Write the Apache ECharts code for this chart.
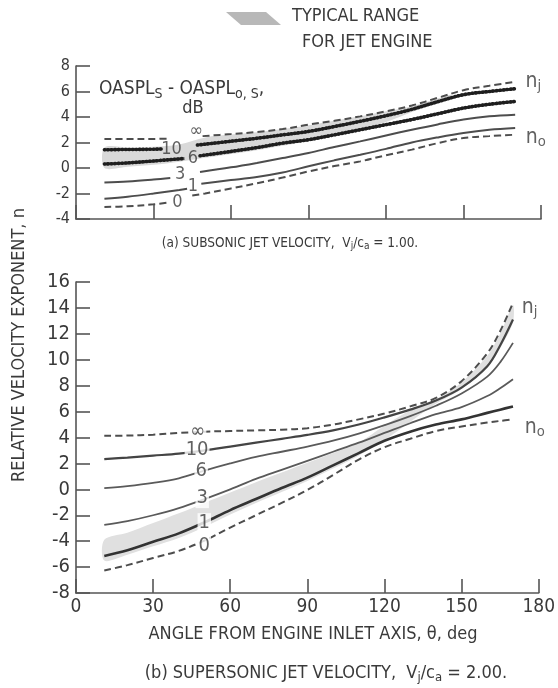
<!DOCTYPE html>
<html>
<head>
<meta charset="utf-8">
<script src="https://cdn.jsdelivr.net/npm/echarts@6/dist/echarts.min.js"></script>
<style>
html,body{margin:0;padding:0;background:#fff}
#chart{width:558px;height:688px}
</style>
</head>
<body>
<div id="chart"></div>
<script>
// ---- (a) subsonic jet, Vj/ca = 1.00 : relative velocity exponent n vs angle (deg) ----
// null marks the break in a curve where its dB label sits
const subInfAngle = [11, 20, 30, 36, 42, 49, 60, 70, 80, 90, 100, 110, 120, 130, 140, 150, 160, 170];
const subInf      = [2.27, 2.27, 2.28, 2.3, null, 2.5, 2.66, 2.82, 3.05, 3.4, 3.7, 4.05, 4.45, 4.9, 5.5, 6.1, 6.45, 6.75];
const sub10Angle  = [11, 20, 30, 33, 40, 47, 60, 70, 80, 90, 100, 110, 120, 130, 140, 150, 160, 170];
const sub10       = [1.43, 1.45, 1.47, 1.49, null, 1.8, 2.1, 2.33, 2.6, 2.87, 3.25, 3.66, 4.1, 4.6, 5.2, 5.75, 6.0, 6.22];
const sub6Angle   = [11, 20, 30, 42, 45, 48, 60, 70, 80, 90, 100, 110, 120, 130, 140, 150, 160, 170];
const sub6        = [0.31, 0.4, 0.55, 0.75, null, 0.96, 1.3, 1.6, 1.95, 2.22, 2.6, 3.0, 3.4, 3.8, 4.25, 4.7, 5.0, 5.22];
const sub3Angle   = [11, 20, 30, 36.5, 42, 48, 60, 70, 80, 90, 100, 110, 120, 130, 140, 150, 160, 170];
const sub3        = [-1.13, -1.05, -0.9, -0.78, null, -0.31, 0.05, 0.4, 0.78, 1.18, 1.65, 2.09, 2.55, 3.0, 3.42, 3.8, 4.05, 4.18];
const sub1Angle   = [11, 20, 30, 40, 43, 45.5, 48.5, 60, 70, 80, 90, 100, 110, 120, 130, 140, 150, 160, 170];
const sub1        = [-2.41, -2.25, -2.0, -1.72, -1.62, null, -1.23, -0.95, -0.7, -0.35, 0.13, 0.6, 1.04, 1.5, 2.0, 2.4, 2.75, 3.0, 3.14];
const sub0Angle   = [11, 20, 30, 36, 40, 45, 50, 60, 70, 80, 90, 100, 110, 120, 130, 140, 150, 160, 170];
const sub0        = [-3.06, -3.0, -2.85, -2.7, null, -2.15, -2.0, -1.6, -1.2, -0.75, -0.27, 0.15, 0.52, 1.0, 1.44, 1.95, 2.35, 2.5, 2.61];
// typical range for jet engine (shaded band)
const subBandAngle = [11, 20, 30, 40, 50, 60, 70, 80, 90, 100, 110, 120, 130, 140, 145];
const subBandHigh  = [1.6, 1.62, 1.66, 1.85, 2.4, 2.62, 2.8, 3.05, 3.35, 3.7, 4.05, 4.45, 4.85, 5.45, 5.75];
const subBandLow   = [0.0, 0.1, 0.25, 0.5, 0.8, 1.1, 1.4, 1.75, 2.1, 2.5, 2.95, 3.6, 4.4, 5.1, 5.55];

// ---- (b) supersonic jet, Vj/ca = 2.00 ----
const supAngle = [11, 20, 30, 40, 50, 60, 70, 80, 90, 100, 110, 120, 130, 140, 150, 160, 165, 170];
const supInf = [4.13, 4.15, 4.22, 4.35, 4.45, 4.5, 4.55, 4.6, 4.72, 5.0, 5.4, 5.85, 6.4, 7.05, 8.35, 10.5, 12.2, 14.4];
const sup10  = [2.33, 2.45, 2.6, 2.75, 3.0, 3.3, 3.6, 3.9, 4.2, 4.55, 5.0, 5.55, 6.15, 6.85, 7.85, 9.5, 11.1, 13.1];
const sup6   = [0.09, 0.25, 0.5, 0.85, 1.45, 2.0, 2.5, 2.9, 3.3, 3.75, 4.3, 4.95, 5.65, 6.45, 7.4, 8.7, 9.8, 11.3];
const sup3   = [-2.74, -2.45, -2.0, -1.45, -0.75, 0.0, 0.8, 1.5, 2.2, 2.9, 3.6, 4.35, 5.1, 5.8, 6.35, 7.2, 7.8, 8.5];
const sup1   = [-5.14, -4.7, -4.05, -3.4, -2.55, -1.6, -0.75, 0.1, 0.9, 1.85, 2.8, 3.75, 4.45, 5.0, 5.4, 5.9, 6.15, 6.4];
const sup0   = [-6.27, -5.85, -5.3, -4.75, -3.95, -2.95, -2.0, -1.05, -0.05, 1.1, 2.3, 3.25, 3.9, 4.5, 4.85, 5.15, 5.28, 5.4];
const supBandHigh = [-3.9, -3.35, -2.6, -1.85, -1.05, -0.25, 0.55, 1.3, 2.05, 2.8, 3.6, 4.9, 6.1, 6.95, 8.25, 10.3, 12.0, 14.2];
const supBandLow  = [-5.5, -5.05, -4.4, -3.75, -2.9, -1.95, -1.05, -0.2, 0.65, 1.6, 2.6, 3.8, 5.2, 6.6, 7.75, 9.4, 10.9, 12.9];

// dB curve labels and where they sit on each panel [angle, n]
const dbNames = ['\u221e', '10', '6', '3', '1', '0'];
const subLabelPos = [[46.5, 2.87], [37, 1.44], [45.3, 0.77], [40.3, -0.52], [45.3, -1.46], [39.3, -2.72]];
const supLabelPos = [[47.4, 4.46], [47.1, 3.05], [48.7, 1.43], [49.1, -0.68], [49.9, -2.61], [49.9, -4.34]];
// n_j / n_o end labels
const endNames = ['j', 'o'];
const subEndPos = [[177, 6.76], [178, 2.37]];
const supEndPos = [[176.5, 14.0], [178.5, 4.75]];

// axis ticks
const angleTicks = {min: 0, max: 180, step: 30};
const subTicks = {min: -4, max: 8, step: 2};
const supTicks = {min: -8, max: 16, step: 2};

const FONT = "'Liberation Sans Narrow','DejaVu Sans Condensed','Arial Narrow',sans-serif";
const INK = '#3a3a3a';
const LINE = '#4d4d4d';

function pairs(xs, ys) {
  return xs.map((x, i) => [x, ys[i] == null ? '-' : ys[i]]);
}

function curve(axis, xs, ys, style, z) {
  return {
    type: 'line', xAxisIndex: axis, yAxisIndex: axis,
    data: pairs(xs, ys), smooth: 0.35, symbol: 'none', silent: true,
    connectNulls: false, z: z || 3,
    lineStyle: Object.assign({color: LINE, width: 2}, style)
  };
}

// shaded range drawn as one closed polygon: upper edge forward, lower edge back
function band(axis, xs, low, high, color) {
  return {
    type: 'custom', coordinateSystem: 'cartesian2d', xAxisIndex: axis, yAxisIndex: axis,
    silent: true, z: 1, data: [[xs[0], low[0]]],
    renderItem: (params, api) => {
      const top = xs.map((x, i) => api.coord([x, high[i]]));
      const bottom = xs.map((x, i) => api.coord([x, low[i]])).reverse();
      return {type: 'polygon', shape: {points: top.concat(bottom), smooth: 0.3},
              style: {fill: color}};
    }
  };
}

function labels(axis, pos, names, size, bg) {
  return {
    type: 'scatter', xAxisIndex: axis, yAxisIndex: axis, symbolSize: 0, silent: true, z: 6,
    data: pos.map((p, i) => ({value: p, name: names[i]})),
    label: {show: true, position: 'inside', formatter: '{b}', fontSize: size, color: INK,
            fontFamily: FONT, backgroundColor: bg ? '#fff' : 'transparent', padding: bg ? [0, 1] : 0}
  };
}

function endLabels(axis, pos, size) {
  return {
    type: 'scatter', xAxisIndex: axis, yAxisIndex: axis, symbolSize: 0, silent: true, z: 6,
    data: pos.map((p, i) => ({value: p, name: endNames[i]})),
    label: {show: true, position: 'inside', formatter: p => '{n|n}{s|' + p.name + '}',
            fontFamily: FONT, color: INK,
            rich: {n: {fontSize: size, fontFamily: FONT, color: INK},
                   s: {fontSize: size * 0.7, fontFamily: FONT, color: INK, padding: [size * 0.45, 0, 0, 0]}}}
  };
}

function xAxisCfg(grid, showLabels) {
  return {
    type: 'value', gridIndex: grid, min: angleTicks.min, max: angleTicks.max, interval: angleTicks.step,
    axisLine: {show: true, onZero: false, lineStyle: {color: '#555', width: 1.6}},
    axisTick: {show: true, inside: true, length: 14, lineStyle: {color: '#555', width: 1.6}},
    axisLabel: {show: showLabels, margin: 5, fontSize: 19, color: INK, fontFamily: FONT},
    splitLine: {show: false}
  };
}

function yAxisCfg(grid, t, size) {
  return {
    type: 'value', gridIndex: grid, min: t.min, max: t.max, interval: t.step,
    axisLine: {show: true, onZero: false, lineStyle: {color: '#555', width: 1.6}},
    axisTick: {show: true, inside: true, length: 14, lineStyle: {color: '#555', width: 1.6}},
    axisLabel: {margin: 6, fontSize: size, color: INK, fontFamily: FONT},
    splitLine: {show: false}
  };
}

const dashed = {type: [7, 4]};
const beadBase = {color: '#5c5c5c', width: 3};
const beads = {color: '#1e1e1e', width: 3.6, type: [0.5, 3], cap: 'round'};

const series = [
  band(0, subBandAngle, subBandLow, subBandHigh, '#d9d9d9'),
  curve(0, subInfAngle, subInf, dashed),
  curve(0, sub10Angle, sub10, beadBase),
  curve(0, sub10Angle, sub10, beads, 4),
  curve(0, sub6Angle, sub6, beadBase),
  curve(0, sub6Angle, sub6, beads, 4),
  curve(0, sub3Angle, sub3, {width: 2}),
  curve(0, sub1Angle, sub1, {width: 2}),
  curve(0, sub0Angle, sub0, dashed),
  labels(0, subLabelPos, dbNames, 18, false),
  endLabels(0, subEndPos, 21),

  band(1, supAngle, supBandLow, supBandHigh, '#e0e0e0'),
  curve(1, supAngle, supInf, dashed),
  curve(1, supAngle, sup10, {width: 2.2, color: '#444'}),
  curve(1, supAngle, sup6, {width: 1.8, color: '#5a5a5a'}),
  curve(1, supAngle, sup3, {width: 1.8, color: '#5a5a5a'}),
  curve(1, supAngle, sup1, {width: 2.6, color: '#333'}),
  curve(1, supAngle, sup0, dashed),
  labels(1, supLabelPos, dbNames, 20, true),
  endLabels(1, supEndPos, 21)
];

const graphic = [
  {type: 'polygon', z: 100, shape: {points: [[226, 12], [266, 12], [281, 25], [241, 25]]},
   style: {fill: '#b8b8b8'}},
  {type: 'text', z: 100, x: 292, y: 16, style: {text: 'TYPICAL RANGE', font: '18px ' + FONT, fill: INK, align: 'left', verticalAlign: 'middle'}},
  {type: 'text', z: 100, x: 302, y: 42, style: {text: 'FOR JET ENGINE', font: '18px ' + FONT, fill: INK, align: 'left', verticalAlign: 'middle'}},
  {type: 'text', z: 100, x: 99, y: 89, style: {text: 'OASPL{s|S} - OASPL{s|o, S},', font: '19px ' + FONT, fill: INK,
    align: 'left', verticalAlign: 'middle', rich: {s: {fontSize: 14, fontFamily: FONT, fill: INK, padding: [10, 0, 0, 0]}}}},
  {type: 'text', z: 100, x: 193, y: 108, style: {text: 'dB', font: '18px ' + FONT, fill: INK, align: 'center', verticalAlign: 'middle'}},
  {type: 'text', z: 100, x: 290, y: 243, style: {text: '(a) SUBSONIC JET VELOCITY,  V{s|j}/c{s|a} = 1.00.', font: '13.5px ' + FONT, fill: INK,
    align: 'center', verticalAlign: 'middle', rich: {s: {fontSize: 10, fontFamily: FONT, fill: INK, padding: [7, 0, 0, 0]}}}},
  {type: 'text', z: 100, x: 19, y: 345, rotation: Math.PI / 2,
   style: {text: 'RELATIVE VELOCITY EXPONENT, n', font: '18px ' + FONT, fill: INK, align: 'center', verticalAlign: 'middle'}},
  {type: 'text', z: 100, x: 313, y: 634, style: {text: 'ANGLE FROM ENGINE INLET AXIS, \u03b8, deg', font: '18px ' + FONT, fill: INK,
    align: 'center', verticalAlign: 'middle'}},
  {type: 'text', z: 100, x: 326, y: 673, style: {text: '(b) SUPERSONIC JET VELOCITY,  V{s|j}/c{s|a} = 2.00.', font: '18px ' + FONT, fill: INK,
    align: 'center', verticalAlign: 'middle', rich: {s: {fontSize: 13, fontFamily: FONT, fill: INK, padding: [9, 0, 0, 0]}}}}
];

const chart = echarts.init(document.getElementById('chart'), null, {renderer: 'canvas'});
chart.setOption({
  animation: false,
  backgroundColor: '#fff',
  textStyle: {fontFamily: FONT},
  grid: [
    {left: 76, top: 66, width: 465, height: 153},
    {left: 76, top: 282, width: 466, height: 311}
  ],
  xAxis: [xAxisCfg(0, false), xAxisCfg(1, true)],
  yAxis: [yAxisCfg(0, subTicks, 16), yAxisCfg(1, supTicks, 20)],
  series: series,
  graphic: graphic
});
</script>
</body>
</html>
